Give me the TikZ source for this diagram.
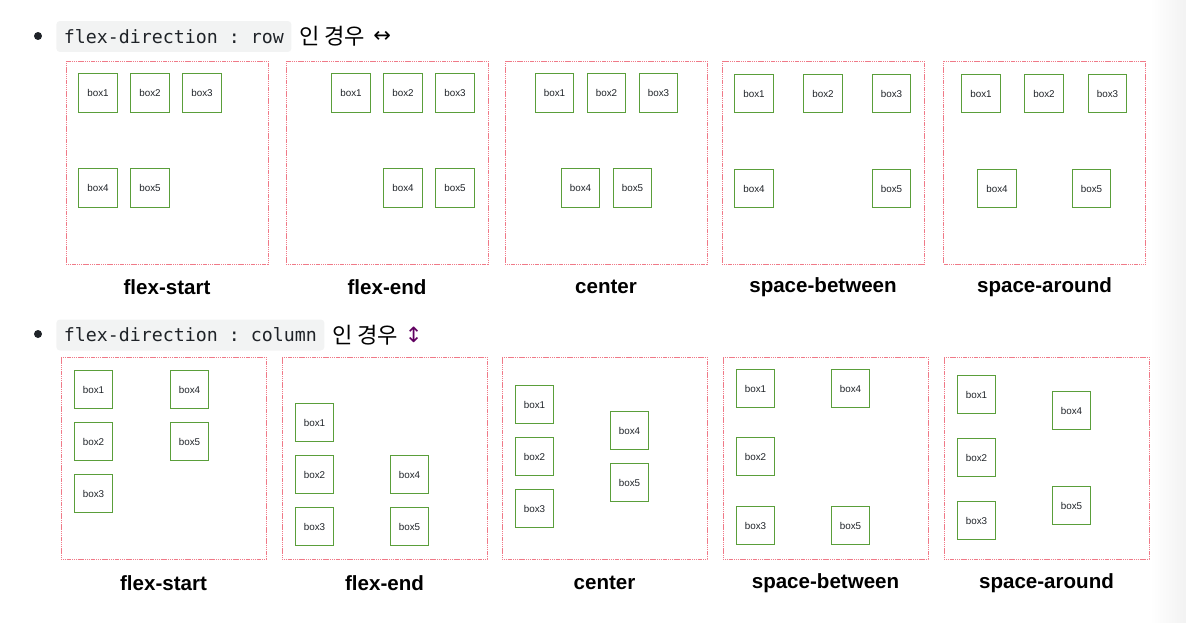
\documentclass[tikz,border=0pt]{standalone}
\usepackage{fontspec}
\setmainfont{Liberation Sans}
\setmonofont{DejaVu Sans Mono}
\newfontfamily\kofont{Noto Sans CJK KR}
\newfontfamily\symfont{DejaVu Sans}
\usetikzlibrary{positioning}

\definecolor{codegray}{HTML}{F2F3F3}
\definecolor{boxgreen}{HTML}{5A9E3A}
\definecolor{frame}{HTML}{F07A88}
\definecolor{inktext}{HTML}{1F2328}

\begin{document}
\begin{tikzpicture}[
    x=0.02cm, y=-0.02cm,
    flexbox/.style={draw=frame, dash pattern=on 0.7pt off 0.35pt, line width=0.45pt, minimum width=4.04cm, minimum height=4.06cm, inner sep=0pt},
    box/.style={draw=boxgreen, line width=0.5pt, minimum width=0.77cm, minimum height=0.77cm, inner sep=0pt, font=\fontsize{5.6}{6}\selectfont, text=inktext},
    caption/.style={font=\fontsize{11.7}{13}\selectfont\bfseries},
    codebg/.style={fill=codegray, rounded corners=2pt, minimum height=0.62cm, inner xsep=0.15cm, font=\fontsize{10.4}{12}\ttfamily, text=inktext},
    hangul/.style={font=\fontsize{12.6}{14}\kofont, text=black, inner sep=0pt},
    arrowsym/.style={font=\fontsize{12}{13}\symfont, inner sep=0pt},
    dot/.style={circle, fill=inktext, inner sep=0pt, minimum size=0.16cm},
]
\useasboundingbox (0,0) rectangle (1186,622);
\shade[left color=white, right color=black!5] (1150,0) rectangle (1186,622);

% row direction
\node[dot] (bul1) at (38,36) {};
\node[codebg, anchor=west] (code1) at (56,36.5) {flex-direction : row};
\node[hangul, right=1.4mm of code1] (ko1) {인 경우};
\node[arrowsym, right=1.5mm of ko1] (arr1) {↔};

\node[flexbox] (ra1) at (167,162.5) {};
\node[flexbox] (ra2) at (387,162.5) {};
\node[flexbox] (ra3) at (606,162.5) {};
\node[flexbox] (ra4) at (823,162.5) {};
\node[flexbox] (ra5) at (1044.5,162.5) {};

\foreach \n/\x/\y in {1/98/93, 2/150/93, 3/202/93, 4/98/188, 5/150/188}
  \node[box] (ra1b\n) at (\x,\y) {box\n};
\foreach \n/\x/\y in {1/351/93, 2/403/93, 3/455/93, 4/403/188, 5/455/188}
  \node[box] (ra2b\n) at (\x,\y) {box\n};
\foreach \n/\x/\y in {1/554.5/93, 2/606.5/93, 3/658.5/93, 4/580.5/188, 5/632.5/188}
  \node[box] (ra3b\n) at (\x,\y) {box\n};
\foreach \n/\x/\y in {1/754/93.5, 2/823/93.5, 3/891.5/93.5, 4/754/188.5, 5/891.5/188.5}
  \node[box] (ra4b\n) at (\x,\y) {box\n};
\foreach \n/\x/\y in {1/981/93.5, 2/1044/93.5, 3/1107.5/93.5, 4/997/188.5, 5/1091.5/188.5}
  \node[box] (ra5b\n) at (\x,\y) {box\n};

\node[caption] at (167,287) {flex-start};
\node[caption] at (387,287) {flex-end};
\node[caption] at (606,287) {center};
\node[caption] at (823,287) {space-between};
\node[caption] at (1044.5,287) {space-around};

% column direction
\node[dot] (bul2) at (38,334) {};
\node[codebg, anchor=west] (code2) at (56,335) {flex-direction : column};
\node[hangul, right=1.4mm of code2] (ko2) {인 경우};
\node[arrowsym, right=1.2mm of ko2, text=violet!75!black] (arr2) {↕};

\node[flexbox, minimum width=4.1cm, minimum height=4.04cm] (rb1) at (163.5,458) {};
\node[flexbox, minimum width=4.1cm, minimum height=4.04cm] (rb2) at (384.5,458) {};
\node[flexbox, minimum width=4.1cm, minimum height=4.04cm] (rb3) at (604.5,458) {};
\node[flexbox, minimum width=4.1cm, minimum height=4.04cm] (rb4) at (825.5,458) {};
\node[flexbox, minimum width=4.1cm, minimum height=4.04cm] (rb5) at (1046.5,458) {};

\foreach \n/\x/\y in {1/93.5/389.5, 2/93.5/441.5, 3/93.5/493.5, 4/189.5/389.5, 5/189.5/441.5}
  \node[box] (rb1b\n) at (\x,\y) {box\n};
\foreach \n/\x/\y in {1/314.5/422.5, 2/314.5/474.5, 3/314.5/526.5, 4/409.5/474.5, 5/409.5/526.5}
  \node[box] (rb2b\n) at (\x,\y) {box\n};
\foreach \n/\x/\y in {1/534.5/404.5, 2/534.5/456.5, 3/534.5/508.5, 4/629.5/430.5, 5/629.5/482.5}
  \node[box] (rb3b\n) at (\x,\y) {box\n};
\foreach \n/\x/\y in {1/755.5/388.5, 2/755.5/456.5, 3/755.5/525.5, 4/850.5/388.5, 5/850.5/525.5}
  \node[box] (rb4b\n) at (\x,\y) {box\n};
\foreach \n/\x/\y in {1/976.5/394.5, 2/976.5/457.5, 3/976.5/520.5, 4/1071.5/410.5, 5/1071.5/505.5}
  \node[box] (rb5b\n) at (\x,\y) {box\n};

\node[caption] at (163.5,583) {flex-start};
\node[caption] at (384.5,583) {flex-end};
\node[caption] at (604.5,583) {center};
\node[caption] at (825.5,583) {space-between};
\node[caption] at (1046.5,583) {space-around};
\end{tikzpicture}
\end{document}
